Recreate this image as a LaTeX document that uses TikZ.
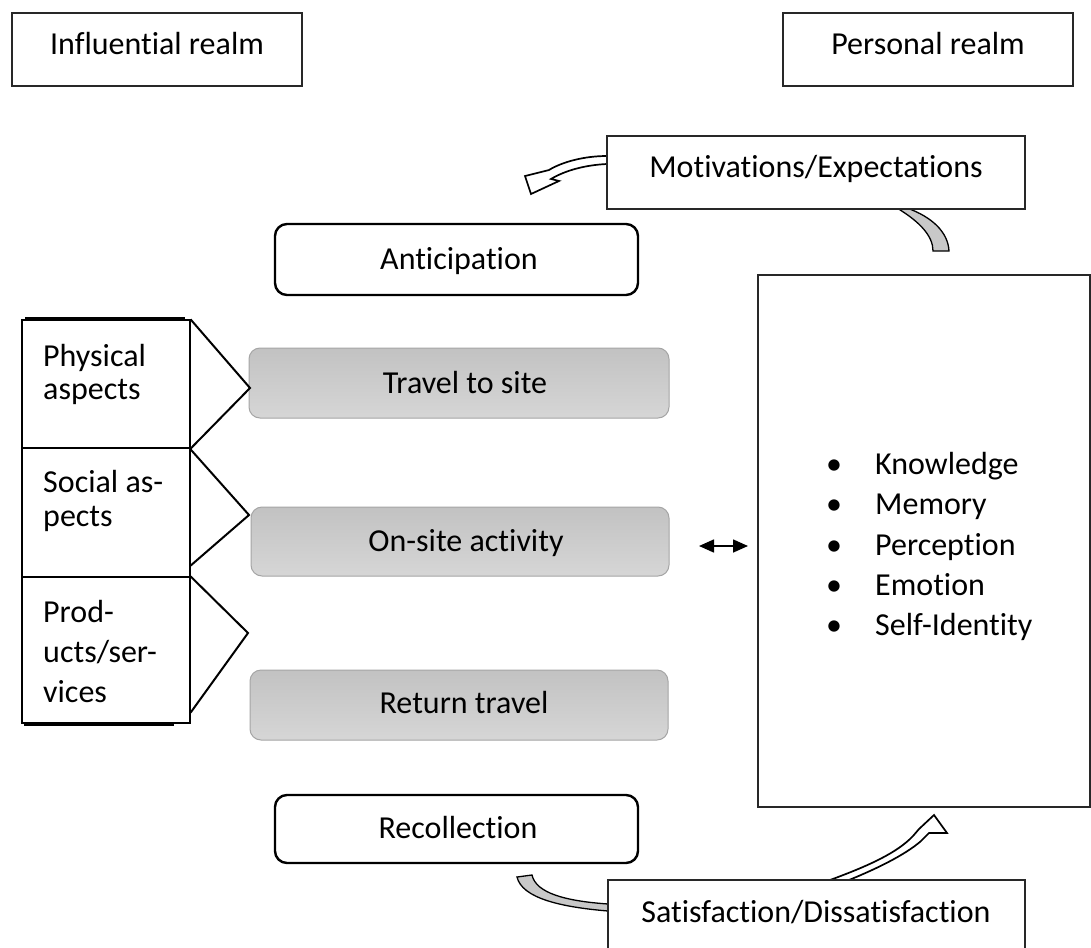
\documentclass[tikz,border=0pt]{standalone}
\usepackage{fontspec}
\setmainfont{Carlito}[Ligatures=NoCommon]
\usetikzlibrary{arrows.meta,calc,backgrounds}
\definecolor{stageT}{RGB}{194,194,194}
\definecolor{stageB}{RGB}{214,214,214}
\definecolor{stageEdge}{RGB}{165,165,165}
\definecolor{bandgray}{RGB}{200,200,200}
\definecolor{edgedark}{RGB}{40,40,40}
\begin{document}
\begin{tikzpicture}[x=1pt,y=-1pt,
  font=\fontsize{32}{38}\selectfont,
  plainbox/.style={draw=edgedark, line width=1.3pt, fill=white, inner sep=0pt},
  roundbox/.style={draw=black, line width=2.4pt, rounded corners=12pt, fill=white, inner sep=0pt},
  stagebox/.style={draw=stageEdge, line width=1pt, rounded corners=11pt, top color=stageT, bottom color=stageB, inner sep=0pt},
  colbox/.style={draw=black, line width=1.2pt, fill=white, inner sep=0pt},
  lbl/.style={anchor=base, inner sep=0pt},
  lblw/.style={anchor=base west, inner sep=0pt},
  chev/.style={draw=black, line width=2pt, line join=miter},
  whitearrow/.style={draw=black, line width=1.7pt, fill=white, line join=miter},
  grayband/.style={draw=black, line width=1.3pt, fill=bandgray},
  dbl/.style={line width=1.6pt, {Triangle[length=15pt,width=13pt]}-{Triangle[length=15pt,width=13pt]}}
]
\clip (0,0) rectangle (1091,947);

% plain boxes
\node[plainbox, minimum width=290pt, minimum height=73pt] (infl) at (157,49.5) {};
\node[plainbox, minimum width=290pt, minimum height=73pt] (pers) at (928,49.5) {};
\node[plainbox, minimum width=418pt, minimum height=73pt] (motiv) at (816,172.5) {};
\node[plainbox, minimum width=332pt, minimum height=532pt] (big) at (924,541) {};
\node[plainbox, minimum width=417pt, minimum height=100pt] (satis) at (816.5,930) {};

% rounded phase boxes
\node[roundbox, minimum width=363pt, minimum height=71pt] (antic) at (456.5,259.5) {};
\node[roundbox, minimum width=363pt, minimum height=68pt] (recoll) at (456.5,829) {};

% stage boxes
\node[stagebox, minimum width=420pt, minimum height=70pt] (travel) at (459,383) {};
\node[stagebox, minimum width=418pt, minimum height=69pt] (onsite) at (460,541.5) {};
\node[stagebox, minimum width=418pt, minimum height=70pt] (return) at (459,705) {};

% left column
\node[colbox, minimum width=168pt, minimum height=128pt] (phys) at (106,384) {};
\node[colbox, minimum width=168pt, minimum height=129pt] (social) at (106,512.5) {};
\node[colbox, minimum width=168pt, minimum height=146pt] (prod) at (106,650) {};
\draw[line width=3pt] ($(phys.north west)+(4,-1)$) -- ($(phys.north east)+(-6,-1)$);
\draw[line width=3pt] ($(prod.south west)+(3,1)$) -- ($(prod.south east)+(-17,1)$);

% chevrons
\coordinate (c1) at (250,388);
\coordinate (c2) at (249,515);
\coordinate (c3) at (248,633);
\draw[chev] (phys.north east) -- (c1) -- (phys.south east);
\draw[chev] ($(social.north east)+(0,2)$) -- (c2) -- ($(social.south east)+(0,-12)$);
\draw[chev] (prod.north east) -- (c3) -- ($(prod.south east)+(0,-11)$);

% texts
\node[lbl] (tinfl) at (157,55) {Influential realm};
\node[lbl] (tpers) at (928,55) {Personal realm};
\node[lbl] (tmotiv) at (816,177) {Motivations/Expectations};
\node[lbl] (tantic) at (459,269) {Anticipation};
\node[lbl] (ttravel) at (465,393) {Travel to site};
\node[lbl] (tonsite) at (466,551) {On-site activity};
\node[lbl] (treturn) at (464,713) {Return travel};
\node[lbl] (trecoll) at (458,838) {Recollection};
\node[lbl] (tsatis) at (816,922) {Satisfaction/Dissatisfaction};

\node[lblw] (p1) at (43,366) {Physical};
\node[lblw] (p2) at (43,399) {aspects};
\node[lblw] (s1) at (43,492) {Social as-};
\node[lblw] (s2) at (43,526) {pects};
\node[lblw] (r1) at (43,622) {Prod-};
\node[lblw] (r2) at (43,662) {ucts/ser-};
\node[lblw] (r3) at (43,702) {vices};

% bullet list
\foreach \yy/\txt/\nm in {474/Knowledge/k, 514/Memory/m, 555/Perception/p, 595/Emotion/e, 635/Self-Identity/s}{
  \node[lbl] (bul\nm) at (834,\yy) {\textbullet};
  \node[lblw] (itm\nm) at (875,\yy) {\txt};
}

% double arrow
\coordinate (da1) at (699,546);
\coordinate (da2) at (748,546);
\draw[dbl] (da1) -- (da2);

% curved block arrows (behind boxes)
\begin{pgfonlayer}{background}
\fill[white] (0,0) rectangle (1091,947);
% motivations -> anticipation (white outlined)
\draw[whitearrow] (607,156) .. controls (584,156) and (562,162) .. (549,170)
  -- (525,176) -- (531,194) -- (559,181) -- (551,179)
  .. controls (566,170) and (586,165) .. (607,164) -- cycle;
% motivations -> personal box (gray band)
\draw[grayband] (897,208) .. controls (920,222) and (933,236) .. (933,251)
  -- (949,251) .. controls (948,232) and (932,217) .. (907,208) -- cycle;
% satisfaction -> recollection (gray band)
\draw[grayband] (517,877) .. controls (522,898) and (560,907) .. (608,911)
  -- (608,904) .. controls (565,901) and (536,893) .. (532,875) -- cycle;
% satisfaction -> personal box (white outlined)
\draw[whitearrow] (830,880) .. controls (868,866) and (897,853) .. (913,836)
  -- (919,829) -- (934,815) -- (947,833) -- (929,833) -- (921,841)
  .. controls (905,855) and (876,869) .. (849,880) -- cycle;
\end{pgfonlayer}
\end{tikzpicture}
\end{document}
